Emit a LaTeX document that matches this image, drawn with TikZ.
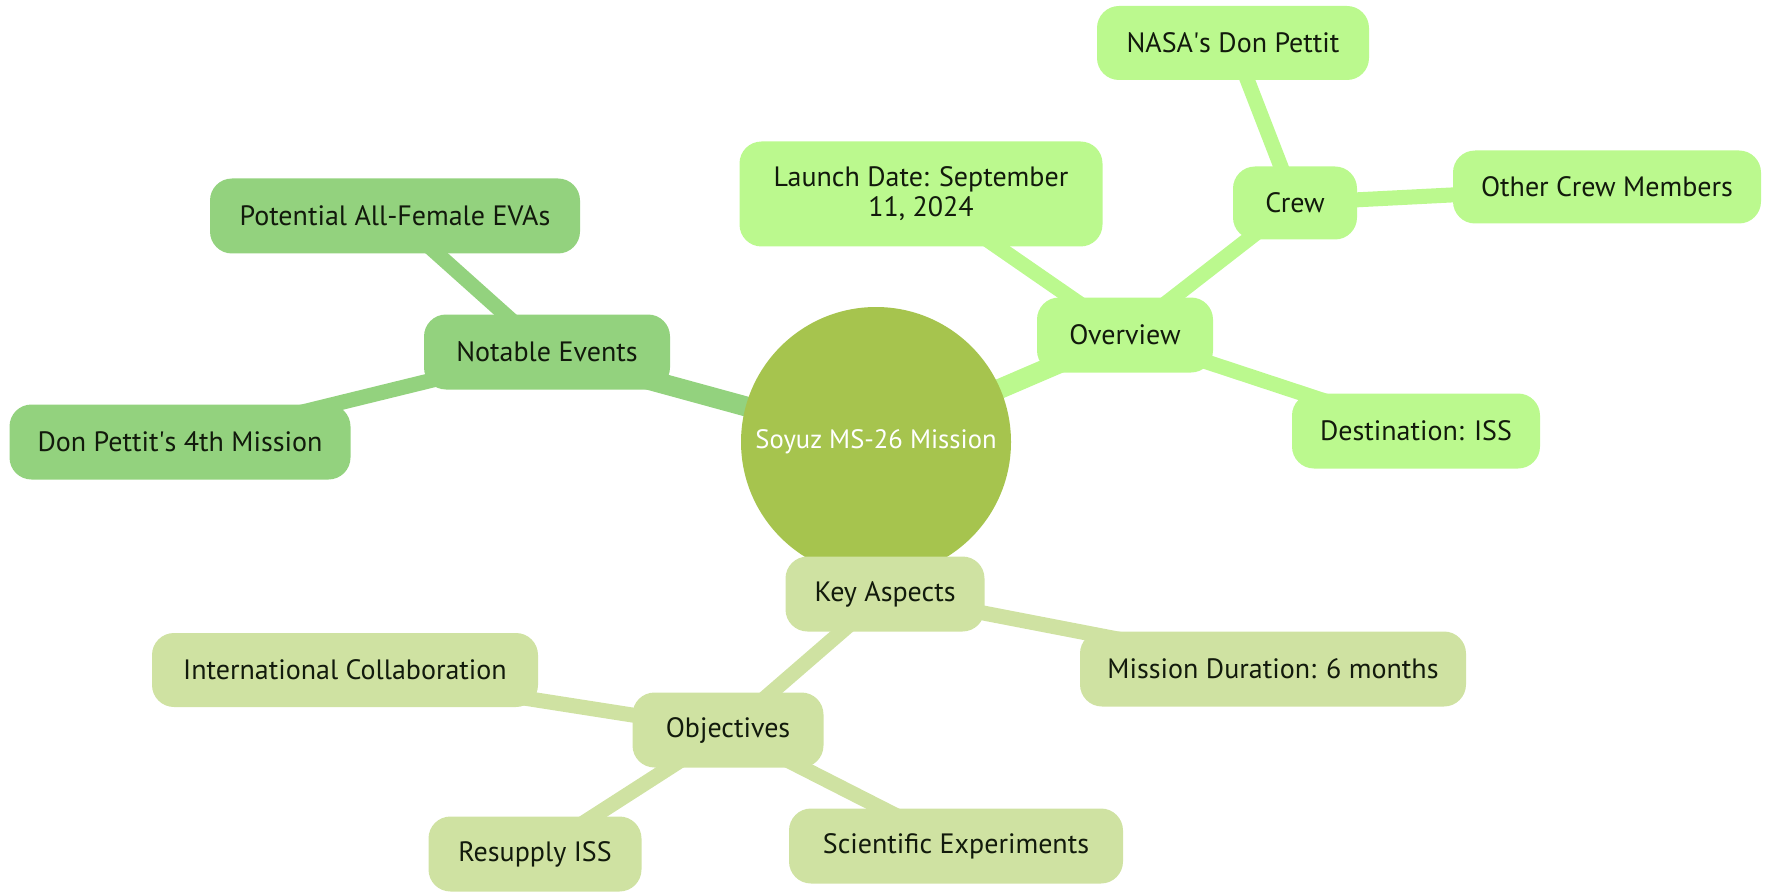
\documentclass[tikz,border=0pt]{standalone}
\usepackage{fontspec}
\setmainfont{PT Sans}
\usetikzlibrary{backgrounds}
\definecolor{rootc}{HTML}{A6C44E}
\definecolor{notec}{HTML}{93D27E}
\definecolor{overc}{HTML}{BBF98E}
\definecolor{keyc}{HTML}{CFE2A2}
\definecolor{txt}{HTML}{121A0C}
\tikzstyle{root}=[circle,fill=rootc,text=white,inner sep=0pt,minimum size=135pt,font=\fontsize{13.3}{16}\selectfont]
\tikzstyle{topic}=[rectangle,rounded corners=11pt,inner sep=0pt,minimum height=37.5pt,text=txt,align=center,font=\fontsize{14}{15}\selectfont]
\tikzstyle{note}=[topic,fill=notec]
\tikzstyle{over}=[topic,fill=overc]
\tikzstyle{keya}=[topic,fill=keyc]
\tikzstyle{edge}=[draw,line width=7.5pt]
\tikzstyle{trunk}=[draw,line width=10pt]

\begin{document}
\begin{tikzpicture}[x=0.5pt,y=-0.5pt]
\useasboundingbox (0,0) rectangle (1777,893);
% centre
\path node[root] (R) at (876,442) {Soyuz MS-26 Mission};
% left branch
\path node[note,minimum width=123pt] (N) at (547,352) {Notable Events}
      node[note,minimum width=185pt] (NF) at (395,216) {Potential All-Female EVAs}
      node[note,minimum width=170.5pt] (NP) at (180,442) {Don Pettit\textquotesingle s 4th Mission};
% right branch
\path node[over,minimum width=88pt] (O) at (1125,335) {Overview}
      node[over,minimum width=181.5pt,minimum height=52.5pt] (OL) at (921,194) {Launch Date: September\\11, 2024}
      node[over,minimum width=62pt,minimum height=36.5pt] (OC) at (1295,203) {Crew}
      node[over,minimum width=136pt,minimum height=37pt] (OCN) at (1233,43) {NASA\textquotesingle s Don Pettit}
      node[over,minimum width=154pt,minimum height=36.5pt] (OCM) at (1607,187) {Other Crew Members}
      node[over,minimum width=124pt] (OD) at (1416,431) {Destination: ISS};
% lower branch
\path node[keya,minimum width=99.5pt] (K) at (885,594) {Key Aspects}
      node[keya,minimum width=193pt] (KD) at (1273,669) {Mission Duration: 6 months}
      node[keya,minimum width=95.5pt] (KO) at (728,730) {Objectives}
      node[keya,minimum width=193pt,minimum height=37pt] (KOI) at (345,670) {International Collaboration}
      node[keya,minimum width=106.5pt] (KOR) at (535,854) {Resupply ISS}
      node[keya,minimum width=167pt] (KOS) at (956,846) {Scientific Experiments};
\begin{pgfonlayer}{background}
  \path[trunk,notec] (R.center) -- (N.center);
  \path[trunk,overc] (R.center) -- (O.center);
  \path[trunk,keyc] (R.center) -- (K.center);
  \path[edge,notec] (N.center) -- (NF.center) (N.center) -- (NP.center);
  \path[edge,overc] (O.center) -- (OL.center) (O.center) -- (OC.center) (O.center) -- (OD.center)
        (OC.center) -- (OCN.center) (OC.center) -- (OCM.center);
  \path[edge,keyc] (K.center) -- (KD.center) (K.center) -- (KO.center)
        (KO.center) -- (KOI.center) (KO.center) -- (KOR.center) (KO.center) -- (KOS.center);
\end{pgfonlayer}
\end{tikzpicture}
\end{document}
